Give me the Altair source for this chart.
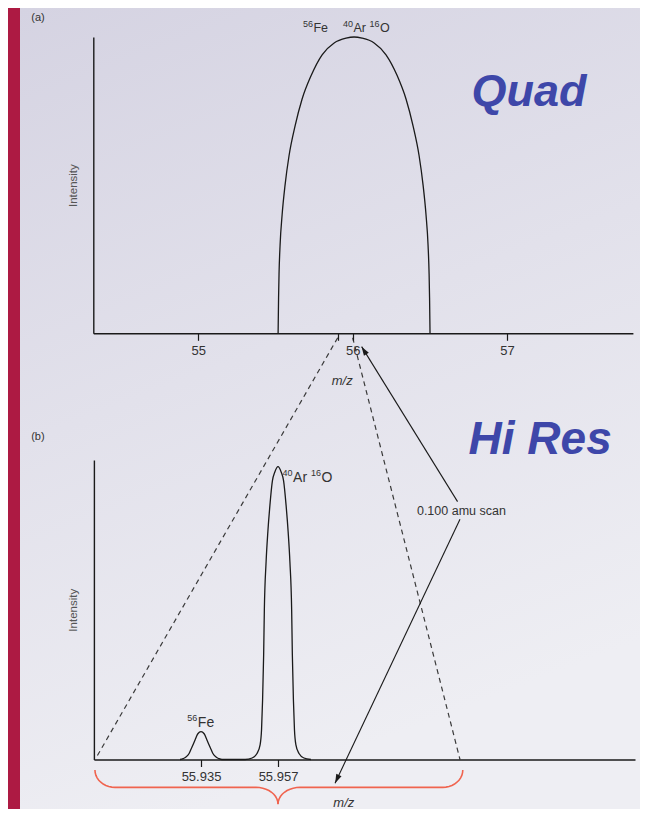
import math
import altair as alt
import pandas as pd

# ---------------- data ----------------
# (a) quadrupole scan: one broad unresolved peak (m/z, relative intensity)
quad_mz = [55.517, 55.520, 55.523, 55.530, 55.543, 55.562, 55.588, 55.627, 55.672,
           55.731, 55.802, 55.880, 55.957, 56.009, 56.061, 56.139, 56.216, 56.288,
           56.346, 56.391, 56.430, 56.456, 56.475, 56.488, 56.495, 56.498, 56.501]
quad_int = [0, 12, 20, 30, 40, 50, 60, 70, 79,
            87, 94, 98, 99.6, 100, 99.6, 98, 94, 87,
            79, 70, 60, 50, 40, 30, 20, 12, 0]
quad_ticks = [55, 55.903, 56, 57]

# (b) high-resolution scan: 56Fe and 40Ar16O resolved
hires_mz = [55.9290, 55.9299, 55.9307, 55.9316, 55.9324, 55.9333, 55.9341, 55.9350,
            55.9359, 55.9367, 55.9376, 55.9384, 55.9393, 55.9401, 55.9410,
            55.9476, 55.9496, 55.9510, 55.9519, 55.9523, 55.9526, 55.9529, 55.9531,
            55.9536, 55.9541, 55.9547, 55.9554, 55.9561, 55.9570, 55.9579, 55.9586,
            55.9593, 55.9599, 55.9604, 55.9609, 55.9611, 55.9614, 55.9617, 55.9621,
            55.9630, 55.9644, 55.9664]
hires_int = [0, 0.3, 0.8, 2.0, 4.1, 6.5, 8.6, 9.3,
             8.6, 6.5, 4.1, 2.0, 0.8, 0.3, 0,
             0, 0.5, 2, 5, 10, 20, 35, 50,
             66, 76, 85, 93, 96, 97.8, 96, 93,
             85, 76, 66, 50, 35, 20, 10, 5,
             2, 0.5, 0]
hires_ticks = [55.935, 55.957]

# scan window (0.100 amu) as marked on each axis
scan_a = [55.903, 56.0]
scan_b = [55.905, 56.009]
brace_mz = [55.9047, 55.957, 56.0098]

# peak labels: isotope mass (superscript) + element, anchored at the join
atom_a_mass = ["56", "40", "16"]
atom_a_sym = ["Fe", "Ar", "O"]
atom_a_mz = [55.746, 56.005, 56.177]
atom_a_int = [103, 103, 103]
atom_b_mass = ["56", "40", "16"]
atom_b_sym = ["Fe", "Ar", "O"]
atom_b_mz = [55.9341, 55.9613, 55.9694]
atom_b_int = [12.3, 94, 94]

# ---------------- layout ----------------
W, H = 632, 801
XA_DOM, XA_RNG = [54.32, 57.815], [85.3, 624.9]
YA_DOM, YA_RNG = [0, 100], [325.3, 29.0]
XB_DOM, XB_RNG = [55.9044, 56.059], [85.9, 627.0]
YB_DOM, YB_RNG = [0, 100], [751.5, 452.0]

FONT = "Liberation Sans Narrow, Liberation Sans, Arial, sans-serif"
BIGFONT = "Liberation Sans, Arial, sans-serif"
INK = "#1a1a1a"
TXT = "#333333"
BLUE = "#3e47a9"
CRIMSON = "#ad1a43"
BRACE = "#f0644f"


def lin(v, dom, rng):
    return rng[0] + (v - dom[0]) / (dom[1] - dom[0]) * (rng[1] - rng[0])


def pa(m, i):
    return lin(m, XA_DOM, XA_RNG), lin(i, YA_DOM, YA_RNG)


def pb(m, i):
    return lin(m, XB_DOM, XB_RNG), lin(i, YB_DOM, YB_RNG)


def sc(dom, rng):
    return alt.Scale(domain=dom, range=rng, nice=False, zero=False)


CX = sc([0, W], [0, W])
CY = sc([0, H], [0, H])


def enc_a(ch):
    return ch.encode(x=alt.X("mz:Q", scale=sc(XA_DOM, XA_RNG), axis=None),
                     y=alt.Y("inten:Q", scale=sc(YA_DOM, YA_RNG), axis=None))


def enc_b(ch):
    return ch.encode(x=alt.X("mz:Q", scale=sc(XB_DOM, XB_RNG), axis=None),
                     y=alt.Y("inten:Q", scale=sc(YB_DOM, YB_RNG), axis=None))


# ---------- background panel ----------
bg = alt.Chart(pd.DataFrame({"a": [0]})).mark_rect(
    color=alt.LinearGradient(
        gradient="linear",
        stops=[alt.GradientStop(color="#d5d3e2", offset=0),
               alt.GradientStop(color="#e2e1eb", offset=0.5),
               alt.GradientStop(color="#eeeef3", offset=1)],
        x1=0, x2=0.3, y1=0, y2=1),
).encode(x=alt.value(12), x2=alt.value(W), y=alt.value(0), y2=alt.value(H))


def x_axis(values, offset, title_x, title_y, **kw):
    return alt.Axis(values=values, orient="bottom", offset=offset, zindex=2,
                    domainColor=INK, domainWidth=1.4, tickColor=INK, tickSize=7, tickWidth=1.2,
                    labelFont=FONT, labelFontSize=13, labelColor=TXT, labelPadding=4,
                    grid=False, title="m/z", titleFont=FONT, titleFontSize=13, titleFontStyle="italic",
                    titleFontWeight="normal", titleColor=TXT, titleX=title_x, titleY=title_y,
                    titleBaseline="middle", titleAnchor="start", titleAlign="center", **kw)


def y_axis(offset):
    return alt.Axis(orient="left", offset=offset, ticks=False, labels=False, grid=False, zindex=2,
                    domainColor=INK, domainWidth=1.4, title="Intensity", titleFont=FONT,
                    titleFontSize=11.5, titleFontWeight="normal", titleColor="#555555",
                    titleX=-20, titleBaseline="middle", titleAngle=270)


# ---------- panel (a) ----------
df_a = pd.DataFrame({"mz": quad_mz, "inten": quad_int})
peak_a = alt.Chart(df_a).mark_line(color=INK, strokeWidth=1.3, interpolate="monotone").encode(
    x=alt.X("mz:Q", scale=sc(XA_DOM, XA_RNG),
            axis=x_axis(quad_ticks, -(H - YA_RNG[0]), 333.7, 47,
                        labelExpr="abs(datum.value - round(datum.value)) < 0.001 ? format(datum.value, 'd') : ''")),
    y=alt.Y("inten:Q", scale=sc(YA_DOM, YA_RNG), axis=y_axis(-XA_RNG[0])),
)
df_atoms_a = pd.DataFrame({"mz": atom_a_mz, "inten": atom_a_int, "m": atom_a_mass, "s": atom_a_sym})
sup_a = enc_a(alt.Chart(df_atoms_a).mark_text(font=FONT, fontSize=9, color=TXT, align="right",
                                               baseline="middle", dy=-4, dx=-0.5)).encode(text="m:N")
sym_a = enc_a(alt.Chart(df_atoms_a).mark_text(font=FONT, fontSize=12.5, color=TXT, align="left",
                                               baseline="middle")).encode(text="s:N")
tag_a = enc_a(alt.Chart(pd.DataFrame({"mz": [53.962], "inten": [106.4], "t": ["(a)"]})).mark_text(
    font=FONT, fontSize=11, color=TXT, align="center", baseline="middle")).encode(text="t:N")
big_a = enc_a(alt.Chart(pd.DataFrame({"mz": [57.142], "inten": [81.4], "t": ["Quad"]})).mark_text(
    font=BIGFONT, fontSize=45, fontWeight="bold", fontStyle="italic", color=BLUE,
    align="center", baseline="middle")).encode(text="t:N")

# ---------- panel (b) ----------
df_b = pd.DataFrame({"mz": hires_mz, "inten": hires_int})
peak_b = alt.Chart(df_b).mark_line(color=INK, strokeWidth=1.3, interpolate="monotone").encode(
    x=alt.X("mz:Q", scale=sc(XB_DOM, XB_RNG),
            axis=x_axis(hires_ticks, -(H - YB_RNG[0]), 335.3, 42.5, format=".3f")),
    y=alt.Y("inten:Q", scale=sc(YB_DOM, YB_RNG), axis=y_axis(-XB_RNG[0])),
)
df_atoms_b = pd.DataFrame({"mz": atom_b_mz, "inten": atom_b_int, "m": atom_b_mass, "s": atom_b_sym})
sup_b = enc_b(alt.Chart(df_atoms_b).mark_text(font=FONT, fontSize=9, color=TXT, align="right",
                                               baseline="middle", dy=-4.5, dx=-0.5)).encode(text="m:N")
sym_b = enc_b(alt.Chart(df_atoms_b).mark_text(font=FONT, fontSize=14, color=TXT, align="left",
                                               baseline="middle")).encode(text="s:N")
tag_b = enc_b(alt.Chart(pd.DataFrame({"mz": [55.8884], "inten": [107.7], "t": ["(b)"]})).mark_text(
    font=FONT, fontSize=11, color=TXT, align="center", baseline="middle")).encode(text="t:N")
scan_txt = enc_b(alt.Chart(pd.DataFrame({"mz": [56.0094], "inten": [83.07], "t": ["0.100 amu scan"]})).mark_text(
    font=FONT, fontSize=12.5, color=TXT, align="center", baseline="middle")).encode(text="t:N")
big_b = enc_b(alt.Chart(pd.DataFrame({"mz": [56.0319], "inten": [106.7], "t": ["Hi Res"]})).mark_text(
    font=BIGFONT, fontSize=46, fontWeight="bold", fontStyle="italic", color=BLUE,
    align="center", baseline="middle")).encode(text="t:N")

# ---------- connectors (converted from both panels' scales to the canvas) ----------
rows = []
for g, (ma, mb, ib) in enumerate(zip(scan_a, scan_b, [0.5, 0.0])):
    for k, (x, y) in enumerate([pa(ma, -1.5), pb(mb, ib)]):
        rows.append({"g": f"d{g}", "o": k, "x": x, "y": y})
dashed = alt.Chart(pd.DataFrame(rows)).mark_line(color="#3a3a3a", strokeWidth=1.2, strokeDash=[5, 4]).encode(
    x=alt.X("x:Q", scale=CX, axis=None), y=alt.Y("y:Q", scale=CY, axis=None),
    detail="g:N", order="o:Q")

arrows = [(pb(56.0083, 86.1), pa(56.058, -4.5)), (pb(56.009, 80.2), pb(55.9733, -7.9))]
rows, heads = [], []
for g, (s, e) in enumerate(arrows):
    rows.append({"g": f"a{g}", "o": 0, "x": s[0], "y": s[1]})
    rows.append({"g": f"a{g}", "o": 1, "x": e[0], "y": e[1]})
    ang = math.degrees(math.atan2(e[0] - s[0], -(e[1] - s[1]))) % 360
    heads.append({"x": e[0], "y": e[1], "ang": ang})
arrow_lines = alt.Chart(pd.DataFrame(rows)).mark_line(color=INK, strokeWidth=1.1).encode(
    x=alt.X("x:Q", scale=CX, axis=None), y=alt.Y("y:Q", scale=CY, axis=None),
    detail="g:N", order="o:Q")
arrow_heads = alt.Chart(pd.DataFrame(heads)).mark_point(
    shape="M0,0L-0.32,1L0.32,1Z", filled=True, color=INK, size=324, strokeWidth=0, opacity=1).encode(
    x=alt.X("x:Q", scale=CX, axis=None), y=alt.Y("y:Q", scale=CY, axis=None),
    angle=alt.Angle("ang:Q", scale=None))

# curly brace under the hi-res axis spanning the scan window
x0, _ = pb(brace_mz[0], 0)
xm, _ = pb(brace_mz[1], 0)
x1, _ = pb(brace_mz[2], 0)
_, yt = pb(brace_mz[0], -3.5)
_, yh = pb(brace_mz[0], -9.3)
_, yc = pb(brace_mz[0], -14.9)
rx1, ry1 = 20.0, yh - yt
rx2, ry2 = 22.0, yc - yh
rows = []
steps = [i * 9 for i in range(11)]
for side, sgn, xe in (("L", 1, x0), ("R", -1, x1)):
    o = 0
    for t in steps:
        r = math.radians(t)
        rows.append({"g": side, "o": o, "x": xe + sgn * (rx1 - rx1 * math.cos(r)),
                     "y": yt + ry1 * math.sin(r)}); o += 1
    for t in steps:
        r = math.radians(t)
        rows.append({"g": side, "o": o, "x": xm - sgn * (rx2 - rx2 * math.sin(r)),
                     "y": yh + ry2 - ry2 * math.cos(r)}); o += 1
brace = alt.Chart(pd.DataFrame(rows)).mark_line(color=BRACE, strokeWidth=1.6).encode(
    x=alt.X("x:Q", scale=CX, axis=None), y=alt.Y("y:Q", scale=CY, axis=None),
    detail="g:N", order="o:Q")

chart = alt.layer(
    bg, dashed, brace, peak_a, sup_a, sym_a, tag_a, big_a,
    peak_b, sup_b, sym_b, tag_b, scan_txt, big_b, arrow_lines, arrow_heads
).resolve_scale(x="independent", y="independent").resolve_axis(
    x="independent", y="independent"
).properties(
    width=W, height=H, padding=0, background=CRIMSON,
    autosize=alt.AutoSizeParams(type="none"),
).configure_view(stroke=None)

chart.save("out.html", embed_options={"renderer": "svg", "actions": False})
